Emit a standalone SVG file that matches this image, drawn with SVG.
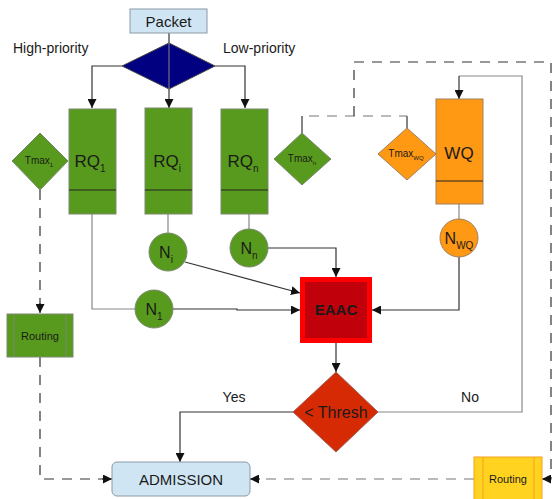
<svg xmlns="http://www.w3.org/2000/svg" width="555" height="499" viewBox="0 0 555 499">
<defs>
<marker id="ah" viewBox="0 0 10 10" refX="10" refY="5" markerWidth="9" markerHeight="9" markerUnits="userSpaceOnUse" orient="auto">
<path d="M0,0 L10,5 L0,10 z" fill="#111"/>
</marker>
</defs>
<style>
text{font-family:"Liberation Sans",Arial,sans-serif;fill:#1a1a1a}
.blue{fill:#cfe5f3;stroke:#8a9aa5;stroke-width:1}
.green{fill:#589a1d;stroke:#7a8a70;stroke-width:1}
.orange{fill:#ff9812;stroke:#a08060;stroke-width:1}
.ln{fill:none;stroke:#333;stroke-width:1.2}
.gl{fill:none;stroke:#888;stroke-width:1.2}
.dl{fill:none;stroke:#333;stroke-width:1.2;stroke-dasharray:10 8}
.dg{fill:none;stroke:#777;stroke-width:1.2;stroke-dasharray:10 8}
.div{stroke:#222;stroke-width:1.2}
.big{font-size:17px}
.sub{font-size:10px}
.tm{font-size:10px}
.tsub{font-size:6px}
</style>

<g id="connectors">
<path class="ln" d="M169,33 L169,108" marker-end="url(#ah)"/>
<path class="ln" d="M122,66 L92,66 L92,108" marker-end="url(#ah)"/>
<path class="ln" d="M215,66 L245,66 L245,108" marker-end="url(#ah)"/>
<path class="gl" d="M168,214 L168,233"/>
<path class="gl" d="M249,214 L249,229"/>
<path class="gl" d="M92,214 L92,309 L135,309"/>
<path class="gl" d="M459,204 L459,219"/>
<path class="ln" d="M185,262 L300,293" marker-end="url(#ah)"/>
<path class="ln" d="M173,309 L237,309 L237,310 L300,310" marker-end="url(#ah)"/>
<path class="ln" d="M268,248 L336,248 L336,277" marker-end="url(#ah)"/>
<path class="ln" d="M459,257 L459,310 L372,310" marker-end="url(#ah)"/>
<path class="ln" d="M336,343 L336,372" marker-end="url(#ah)"/>
<path class="ln" d="M293,412 L180,412 L180,462" marker-end="url(#ah)"/>
<path class="gl" d="M378,412 L522,412 L522,76 L459,76"/>
<path class="ln" d="M459,76 L459,99" marker-end="url(#ah)"/>
<path class="ln" d="M302,133 L302,116"/>
<path class="ln" d="M407,131 L407,116"/>
<path class="dg" d="M309,116 L407,116"/>
<path class="dl" d="M354,116 L354,62 L551,62 L551,479 L546,479"/>
<path class="ln" d="M548,479 L542,479" marker-end="url(#ah)"/>
<path class="dl" d="M40,190 L40,313" />
<path class="ln" d="M40,303 L40,313" marker-end="url(#ah)"/>
<path class="dl" d="M40,357 L40,479 L104,479"/>
<path class="ln" d="M102,479 L112,479" marker-end="url(#ah)"/>
<path class="dg" d="M474,479 L258,479"/>
<path class="ln" d="M260,479 L250,479" marker-end="url(#ah)"/>
</g>

<g id="packet">
<rect class="blue" x="130" y="9" width="77" height="24"/>
<text x="168.5" y="27" font-size="15" text-anchor="middle">Packet</text>
</g>

<g id="priority-decision">
<polygon points="169,43 215,66 169,89 122,66" fill="#000080" stroke="#444" stroke-width="1"/>
</g>
<line x1="169" y1="43" x2="169" y2="89" stroke="#888" stroke-width="1"/>

<g id="label-high"><text x="13" y="53" font-size="14">High-priority</text></g>
<g id="label-low"><text x="223" y="53" font-size="14">Low-priority</text></g>

<g id="rq1">
<rect class="green" x="69" y="109" width="47" height="105"/>
<line class="div" x1="69" y1="190" x2="116" y2="190"/>
<text x="90" y="167" class="big" text-anchor="middle">RQ<tspan class="sub" dy="5">1</tspan></text>
</g>
<g id="rqi">
<rect class="green" x="145" y="108" width="47" height="106"/>
<line class="div" x1="145" y1="190" x2="192" y2="190"/>
<text x="167" y="167" class="big" text-anchor="middle">RQ<tspan class="sub" dy="5">i</tspan></text>
</g>
<g id="rqn">
<rect class="green" x="221" y="109" width="47" height="105"/>
<line class="div" x1="221" y1="190" x2="268" y2="190"/>
<text x="243" y="167" class="big" text-anchor="middle">RQ<tspan class="sub" dy="5">n</tspan></text>
</g>

<g id="tmax1">
<polygon class="green" points="40,133 68,161 40,190 12,161"/>
<text x="39" y="164" class="tm" text-anchor="middle">Tmax<tspan class="tsub" dy="3">1</tspan></text>
</g>
<g id="tmaxn">
<polygon class="green" points="302,133 331,159 302,185 274,159"/>
<text x="302" y="162" class="tm" text-anchor="middle">Tmax<tspan class="tsub" dy="3">n</tspan></text>
</g>
<g id="tmaxwq">
<polygon class="orange" points="407,128 436,154 407,180 378,154"/>
<text x="406" y="157" class="tm" text-anchor="middle">Tmax<tspan class="tsub" dy="3">WQ</tspan></text>
</g>

<g id="wq">
<rect class="orange" x="436" y="99" width="47" height="105"/>
<line class="div" x1="436" y1="181" x2="483" y2="181"/>
<text x="459" y="159" class="big" text-anchor="middle">WQ</text>
</g>

<g id="ni">
<circle class="green" cx="168" cy="252" r="19"/>
<text x="166" y="258" font-size="16" text-anchor="middle">N<tspan class="sub" dy="5">i</tspan></text>
</g>
<g id="nn">
<circle class="green" cx="249" cy="248" r="19"/>
<text x="249" y="254" font-size="16" text-anchor="middle">N<tspan class="sub" dy="5">n</tspan></text>
</g>
<g id="n1">
<circle class="green" cx="154" cy="309" r="19"/>
<text x="154" y="315" font-size="16" text-anchor="middle">N<tspan class="sub" dy="5">1</tspan></text>
</g>
<g id="nwq">
<circle class="orange" cx="459" cy="238" r="19"/>
<text x="459" y="244" font-size="16" text-anchor="middle">N<tspan class="sub" dy="5">WQ</tspan></text>
</g>

<g id="eaac">
<rect x="300" y="277" width="72" height="66" fill="#ff0000"/>
<rect x="305" y="282" width="62" height="56" fill="#c0000b"/>
<text x="336" y="315" font-size="15" font-weight="bold" text-anchor="middle">EAAC</text>
</g>

<g id="thresh">
<polygon points="336,372 378,412 336,452 293,412" fill="#d62a04" stroke="#a06050" stroke-width="1"/>
<text x="336" y="418" font-size="16" text-anchor="middle">&lt; Thresh</text>
</g>

<g id="label-yes"><text x="234" y="402" font-size="14" text-anchor="middle">Yes</text></g>
<g id="label-no"><text x="470" y="402" font-size="14" text-anchor="middle">No</text></g>

<g id="admission">
<rect class="blue" x="112" y="462" width="138" height="34" rx="5"/>
<text x="181" y="485" font-size="15" text-anchor="middle">ADMISSION</text>
</g>

<g id="routing-green">
<rect class="green" x="7" y="314" width="66" height="43"/>
<line x1="14" y1="314" x2="14" y2="357" stroke="#7a8a70"/>
<line x1="66" y1="314" x2="66" y2="357" stroke="#7a8a70"/>
<text x="40" y="340" font-size="11" text-anchor="middle">Routing</text>
</g>

<g id="routing-yellow">
<rect x="474" y="457" width="68" height="45" fill="#ffd320" stroke="#f5a020" stroke-width="1"/>
<line x1="483" y1="457" x2="483" y2="499" stroke="#f5a020"/>
<line x1="534" y1="457" x2="534" y2="499" stroke="#f5a020"/>
<text x="508" y="483" font-size="11" text-anchor="middle">Routing</text>
</g>
</svg>
